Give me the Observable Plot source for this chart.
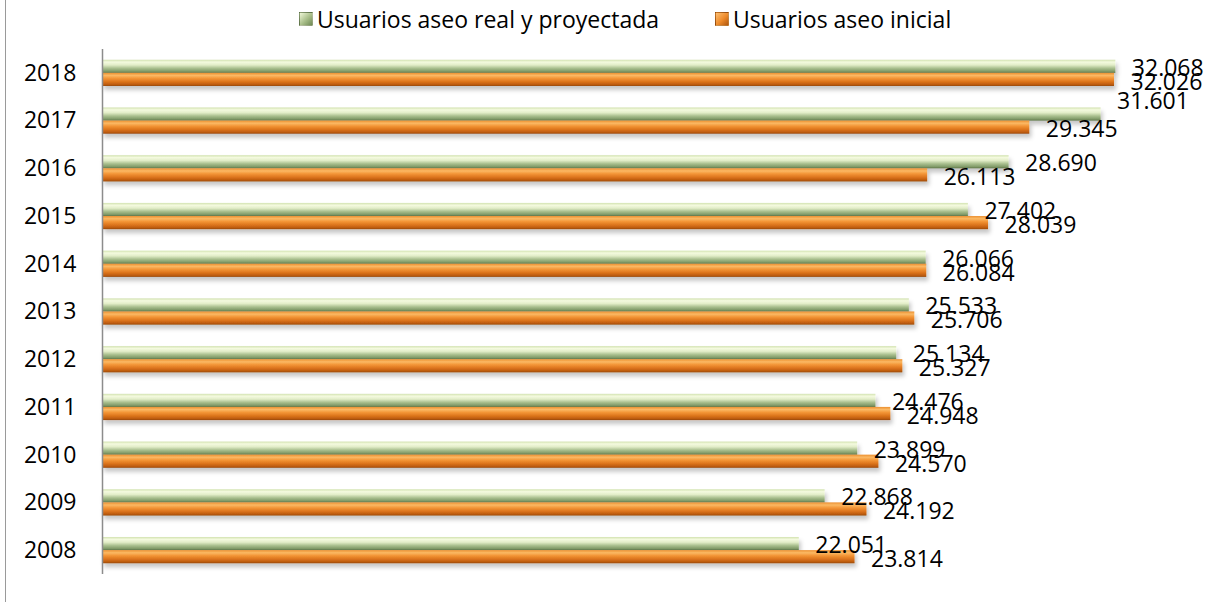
<!DOCTYPE html>
<html><head><meta charset="utf-8">
<script src="https://cdn.jsdelivr.net/npm/d3@7"></script>
<script src="https://cdn.jsdelivr.net/npm/@observablehq/plot@0.6"></script>
<style>
body{margin:0;background:#fff;font-family:"Open Sans",Lato,sans-serif;}
#wrap{position:relative;width:1230px;height:602px;overflow:hidden;background:#fff}
#frame{position:absolute;left:5px;top:0;width:1px;height:602px;background:#9a9a9a}
#legend{position:relative;height:40px;font-size:23px;color:#000}
.item{position:absolute;top:4px;display:flex;align-items:center;white-space:nowrap;line-height:30px}
.sw{width:14px;height:14px;margin-right:4px;box-sizing:border-box;border:1px solid rgba(0,0,0,.2)}
#chart{position:absolute;left:0;top:40px}
</style></head>
<body><div id="wrap"><div id="frame"></div><div id="legend"></div><div id="chart"></div></div>
<script>
const years = ["2008","2009","2010","2011","2012","2013","2014","2015","2016","2017","2018"];
const realProyectada = [22051,22868,23899,24476,25134,25533,26066,27402,28690,31601,32068];
const inicial = [23814,24192,24570,24948,25327,25706,26084,28039,26113,29345,32026];
const seriesNames = ["Usuarios aseo real y proyectada","Usuarios aseo inicial"];

const fmt = v => d3.format(",")(v).replace(/,/g, ".");
const green = years.map((y,i) => ({year:y, value:realProyectada[i]}));
const orange = years.map((y,i) => ({year:y, value:inicial[i]}));

// legend
const legend = document.getElementById("legend");
const swatches = [
  {name: seriesNames[0], bg:"linear-gradient(135deg,#eef6d6,#a7bd88 55%,#6f8a55)", left:299},
  {name: seriesNames[1], bg:"linear-gradient(135deg,#fcc074,#ee8a2a 55%,#b05810)", left:715}
];
swatches.forEach(s => {
  const it = document.createElement("div");
  it.className = "item"; it.style.left = s.left + "px";
  it.innerHTML = `<span class="sw" style="background:${s.bg}"></span><span>${s.name}</span>`;
  legend.appendChild(it);
});

const plot = Plot.plot({
  width: 1230, height: 562,
  marginLeft: 102, marginRight: 22, marginTop: 9, marginBottom: 28,
  style: {fontFamily: "'Open Sans', Lato, sans-serif", fontSize: "23px", color: "#000", background: "transparent"},
  x: {domain: [0, 35000], axis: null},
  y: {domain: years.slice().reverse(), paddingInner: 0.45, paddingOuter: 0.225, round: false, label: null, tickSize: 0, tickPadding: 26},
  marks: [
    Plot.barX(green, {y: "year", x: "value", fill: "url(#gGreen)", insetBottom: 13.1}),
    Plot.barX(orange, {y: "year", x: "value", fill: "url(#gOrange)", insetTop: 13.1}),
    Plot.ruleX([0], {stroke: "#8c8c8c", strokeWidth: 1.5}),
    Plot.text(green.filter(d => d.year !== "2017"), {y: "year", x: "value", text: d => fmt(d.value), textAnchor: "start", dx: 16, dy: -5, fill: "#000"}),
    Plot.text(green.filter(d => d.year === "2017"), {y: "year", x: "value", text: d => fmt(d.value), textAnchor: "start", dx: 16, dy: -19.5, fill: "#000"}),
    Plot.text(orange, {y: "year", x: "value", text: d => fmt(d.value), textAnchor: "start", dx: 16, dy: 9, fill: "#000"})
  ]
});

const svg = d3.select(plot);
const defs = svg.insert("defs", ":first-child");
function grad(id, stops) {
  const g = defs.append("linearGradient").attr("id", id).attr("x1", 0).attr("y1", 0).attr("x2", 0).attr("y2", 1);
  stops.forEach(([o, c]) => g.append("stop").attr("offset", o).attr("stop-color", c));
}
grad("gGreen", [[0,"#d2e2b0"],[0.18,"#f4fadf"],[0.4,"#e2edc8"],[0.65,"#a9bf8e"],[0.88,"#809a68"],[1,"#5d7448"]]);
grad("gOrange", [[0,"#ec9030"],[0.2,"#fbb964"],[0.42,"#f39536"],[0.68,"#dc741c"],[0.9,"#bb5a0e"],[1,"#944709"]]);
const f = defs.append("filter").attr("id", "shadow").attr("x", "-5%").attr("y", "-50%").attr("width", "110%").attr("height", "220%");
f.append("feDropShadow").attr("dx", 2).attr("dy", 4).attr("stdDeviation", 2).attr("flood-color", "#000").attr("flood-opacity", 0.22);
svg.selectAll("g[aria-label='bar']").attr("filter", "url(#shadow)");

document.getElementById("chart").appendChild(plot);
</script></body></html>
